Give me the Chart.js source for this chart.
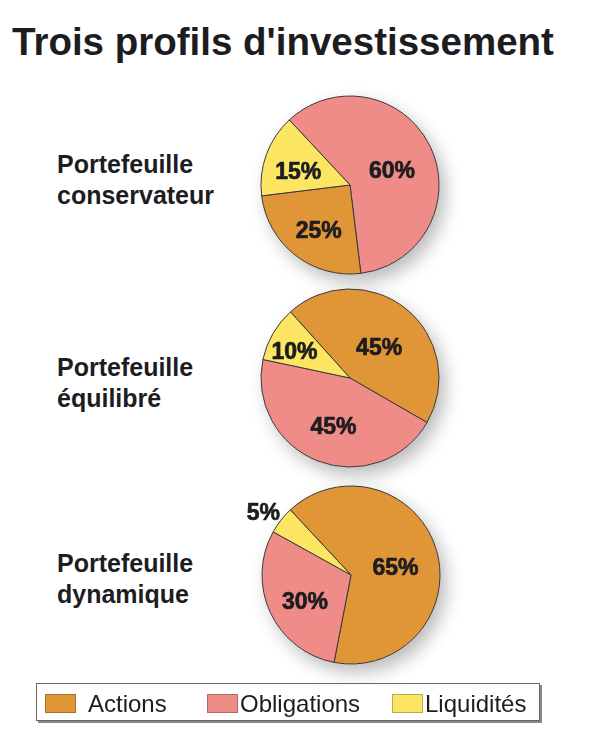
<!DOCTYPE html>
<html><head><meta charset="utf-8">
<script src="https://cdn.jsdelivr.net/npm/chart.js@4.4.0/dist/chart.umd.min.js"></script>
<style>
html,body{margin:0;padding:0;background:#fff;}
body{width:600px;height:737px;position:relative;overflow:hidden;font-family:"Liberation Sans",Arial,sans-serif;color:#1d1d1f;}
.t{position:absolute;white-space:nowrap;font-weight:bold;}
#title{left:12px;top:23px;font-size:38.5px;line-height:38px;}
.cat{left:57px;font-size:25px;line-height:31px;}
.pie{position:absolute;width:280px;height:260px;}
#legend{position:absolute;left:36px;top:683px;width:502px;height:36px;border:1px solid #666;box-shadow:2px 2px 0 #8a8a8a;background:#fff;}
.sw{position:absolute;top:10px;width:29px;height:17px;border:1px solid rgba(0,0,0,0.25);}
.lt{position:absolute;top:8px;font-size:24px;line-height:24px;font-weight:normal;}
</style></head>
<body>
<div id="title" class="t">Trois profils d'investissement</div>
<div id="cats"></div>
<div class="pie" style="left:210px;top:55px"><canvas id="c1"></canvas></div>
<div class="pie" style="left:210px;top:248px"><canvas id="c2"></canvas></div>
<div class="pie" style="left:211px;top:445px"><canvas id="c3"></canvas></div>
<div id="legend"></div>
<script>
const categories = ['Actions', 'Obligations', 'Liquidités'];
const colors = ['#E09537', '#EF8C87', '#FCE562'];
const profileNames = [['Portefeuille', 'conservateur'], ['Portefeuille', 'équilibré'], ['Portefeuille', 'dynamique']];
const conservateur = [25, 60, 15];
const equilibre = [45, 45, 10];
const dynamique = [65, 30, 5];

const catTops = [149, 352, 548];
const cats = document.getElementById('cats');
profileNames.forEach((lines, i) => {
  const d = document.createElement('div');
  d.className = 't cat';
  d.style.top = catTops[i] + 'px';
  d.innerHTML = lines.join('<br>');
  cats.appendChild(d);
});

const legend = document.getElementById('legend');
const swLeft = [8, 170, 355], txtLeft = [51, 203, 388];
categories.forEach((c, i) => {
  const s = document.createElement('div');
  s.className = 'sw'; s.style.left = swLeft[i] + 'px'; s.style.background = colors[i];
  legend.appendChild(s);
  const t = document.createElement('div');
  t.className = 'lt'; t.style.left = txtLeft[i] + 'px'; t.textContent = c;
  legend.appendChild(t);
});

const shadowPlugin = {
  id: 'pieShadow',
  beforeDatasetsDraw(chart) {
    const arc = chart.getDatasetMeta(0).data[0];
    if (!arc) return;
    const p = arc.getProps(['x', 'y', 'outerRadius'], true);
    const ctx = chart.ctx;
    ctx.save();
    ctx.shadowColor = 'rgba(0,0,0,0.28)';
    ctx.shadowBlur = 18; ctx.shadowOffsetX = 6; ctx.shadowOffsetY = 8;
    ctx.beginPath(); ctx.arc(p.x, p.y, p.outerRadius, 0, Math.PI * 2);
    ctx.fillStyle = '#fff'; ctx.fill();
    ctx.restore();
  }
};
const labelPlugin = {
  id: 'pctLabels',
  afterDatasetsDraw(chart) {
    const ctx = chart.ctx, meta = chart.getDatasetMeta(0), ds = chart.data.datasets[0];
    ctx.save();
    ctx.font = 'bold 23px "Liberation Sans", Arial, sans-serif';
    ctx.fillStyle = '#1d1d1f'; ctx.strokeStyle = '#1d1d1f'; ctx.lineWidth = 0.7; ctx.lineJoin = 'round';
    ctx.textAlign = 'center'; ctx.textBaseline = 'alphabetic';
    meta.data.forEach((arc, i) => {
      const v = ds.data[i];
      const p = arc.getProps(['x', 'y', 'startAngle', 'endAngle', 'outerRadius'], true);
      const mid = (p.startAngle + p.endAngle) / 2;
      const f = v >= 40 ? 0.52 : v >= 20 ? 0.57 : v >= 12 ? 0.62 : v >= 8 ? 0.72 : 1.25;
      const x = p.x + Math.cos(mid) * p.outerRadius * f;
      const y = p.y + Math.sin(mid) * p.outerRadius * f + 13;
      ctx.fillText(v + '%', x, y);
      ctx.strokeText(v + '%', x, y);
    });
    ctx.restore();
  }
};

function makePie(id, values, order, rotation) {
  new Chart(document.getElementById(id), {
    type: 'pie',
    data: {
      labels: order.map(i => categories[i]),
      datasets: [{
        data: order.map(i => values[i]),
        backgroundColor: order.map(i => colors[i]),
        borderColor: '#3a3a3a',
        borderWidth: 1
      }]
    },
    options: {
      responsive: true, maintainAspectRatio: false, animation: false, events: [],
      rotation: rotation, radius: 89,
      plugins: { legend: { display: false }, tooltip: { enabled: false } }
    },
    plugins: [shadowPlugin, labelPlugin]
  });
}
makePie('c1', conservateur, [1, 0, 2], -43);
makePie('c2', equilibre, [0, 1, 2], -42);
makePie('c3', dynamique, [0, 1, 2], -43);
</script>
</body></html>
